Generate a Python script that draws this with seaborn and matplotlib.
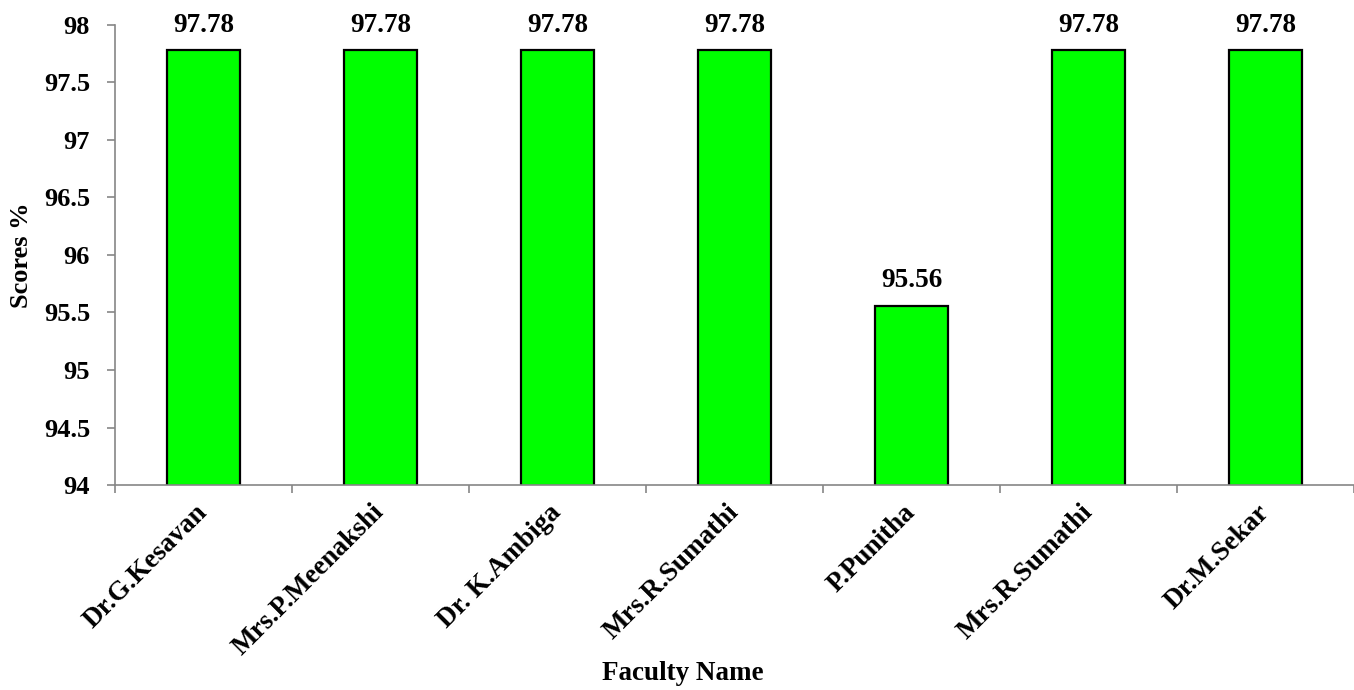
import pandas as pd
import numpy as np
import matplotlib
matplotlib.use("Agg")
import matplotlib.pyplot as plt
import matplotlib.ticker as mticker
import seaborn as sns

# Chart data
faculty = ["Dr.G.Kesavan", "Mrs.P.Meenakshi", "Dr. K.Ambiga", "Mrs.R.Sumathi",
           "P.Punitha", "Mrs.R.Sumathi", "Dr.M.Sekar"]
scores = [97.78, 97.78, 97.78, 97.78, 95.56, 97.78, 97.78]
y_ticks = [94, 94.5, 95, 95.5, 96, 96.5, 97, 97.5, 98]

# names repeat, so use a slot index for the x axis
df = pd.DataFrame({"slot": range(len(faculty)), "score": scores})

sns.set_theme(style="white")
plt.rcParams["font.family"] = ["Liberation Serif", "DejaVu Serif"]
plt.rcParams["font.weight"] = "bold"
plt.rcParams["text.color"] = "black"
plt.rcParams["axes.labelcolor"] = "black"
plt.rcParams["xtick.color"] = "black"
plt.rcParams["ytick.color"] = "black"

fig = plt.figure(figsize=(13.54, 6.9), dpi=100)
ax = fig.add_axes([0.085, 0.297, 0.915, 0.667])

sns.barplot(data=df, x="slot", y="score", ax=ax, color="#00FF00",
            saturation=1, width=0.41, edgecolor="black", linewidth=1.6)

ax.set_ylim(94, 98)
ax.set_xlim(-0.5, 6.44)
ax.set_yticks(y_ticks)
ax.yaxis.set_major_formatter(mticker.FuncFormatter(lambda v, p: f"{v:g}"))

# category labels on major ticks, boundary ticks as minor
ax.set_xticks(range(len(faculty)))
ax.set_xticklabels(faculty, rotation=45, ha="right", va="center",
                   rotation_mode="anchor", fontsize=19.5, fontweight="bold",
                   color="black")
ax.set_xticks(np.arange(-0.5, len(faculty), 1.0), minor=True)
ax.tick_params(axis="x", which="major", length=0, pad=17)
ax.tick_params(axis="x", which="minor", length=6, width=1.2, color="#868686",
               direction="out", bottom=True)
ax.tick_params(axis="y", length=6, width=1.2, color="#868686", direction="out",
               left=True, labelsize=19, pad=12, labelcolor="black")
for lbl in ax.get_yticklabels():
    lbl.set_fontweight("bold")

for side in ["top", "right"]:
    ax.spines[side].set_visible(False)
for side in ["left", "bottom"]:
    ax.spines[side].set_color("#868686")
    ax.spines[side].set_linewidth(1.2)

ax.bar_label(ax.containers[0], fmt="%.2f", padding=9, fontsize=19.5,
             fontweight="bold", color="black")

ax.set_ylabel("Scores %", fontsize=19, fontweight="bold", color="black")
ax.yaxis.set_label_coords(-0.066, 0.5)
ax.set_xlabel("Faculty Name", fontsize=19.5, fontweight="bold", color="black")
ax.xaxis.set_label_coords(0.458, -0.382)

fig.savefig("out.png", dpi=100)
